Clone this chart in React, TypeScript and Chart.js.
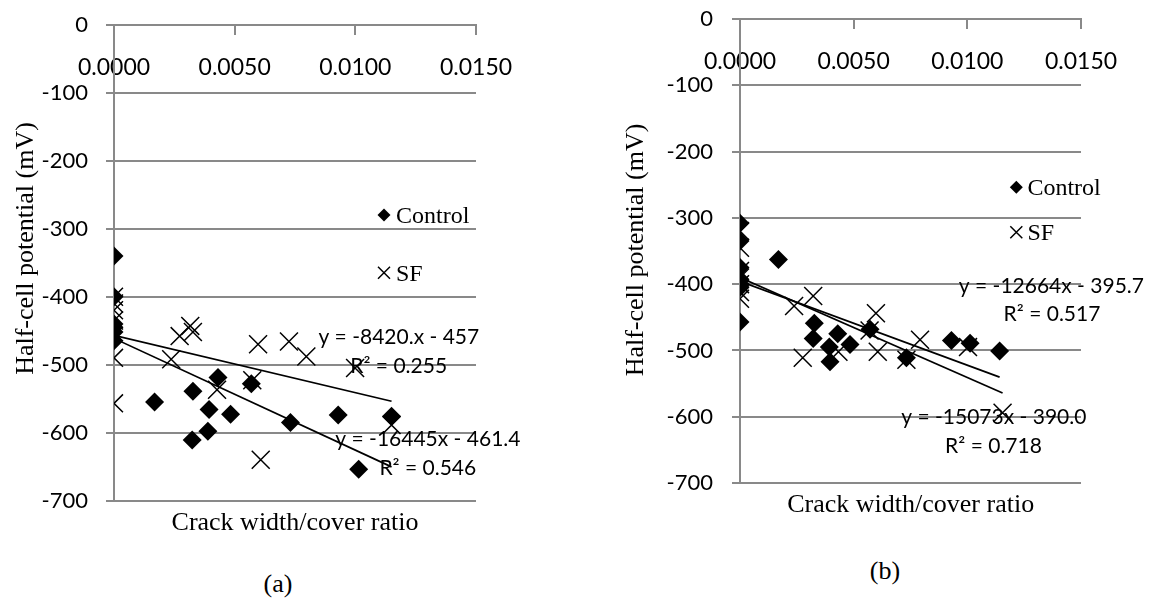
import React, { useEffect, useRef } from 'react';
import { Chart, registerables } from 'chart.js';

Chart.register(...registerables);

// ---------- shared axis ticks ----------
const xTickValues = [0, 0.005, 0.01, 0.015];
const yTickValues = [0, -100, -200, -300, -400, -500, -600, -700];

const seriesNames = ['Control', 'SF'];
const xAxisTitle = 'Crack width/cover ratio';
const yAxisTitle = 'Half-cell potential (mV)';

// ---------- panel (a) ----------
const controlAX = [0, 0, 0, 0, 0, 0, 0.00168, 0.00324, 0.00327, 0.00389, 0.00394, 0.00431, 0.00483, 0.00569, 0.00731, 0.00929, 0.01014, 0.0115];
const controlAY = [-340, -400, -440, -445, -452, -465, -555, -611, -539, -598, -566, -519, -573, -528, -585, -574, -654, -576];
const sfAX = [0, 0, 0, 0, 0, 0, 0.00237, 0.00272, 0.00316, 0.00327, 0.00427, 0.00573, 0.00597, 0.00608, 0.00725, 0.00797, 0.00999, 0.0115];
const sfAY = [-400, -410, -420, -435, -490, -557, -492, -458, -443, -452, -537, -523, -470, -640, -466, -488, -505, -589];
const trendControlA = [-16445, -461.4]; // slope, intercept
const trendSfA = [-8420, -457];
const eqLabelsA = ['y = -8420.x - 457', 'R² = 0.255', 'y = -16445x - 461.4', 'R² = 0.546'];

// ---------- panel (b) ----------
const controlBX = [0, 0, 0, 0, 0, 0, 0, 0.00169, 0.00322, 0.00327, 0.00393, 0.00396, 0.0043, 0.00484, 0.00572, 0.00732, 0.0093, 0.01012, 0.01142];
const controlBY = [-308, -335, -375, -395, -400, -405, -457, -363, -482, -459, -495, -517, -475, -491, -468, -511, -485, -489, -501];
const sfBX = [0, 0, 0, 0, 0, 0, 0, 0.00238, 0.00276, 0.00322, 0.00433, 0.0057, 0.00598, 0.00606, 0.00732, 0.00792, 0.01003, 0.01155];
const sfBY = [-320, -345, -380, -390, -400, -412, -422, -433, -511, -418, -502, -470, -444, -502, -514, -484, -495, -594];
const trendControlB = [-12664, -395.7];
const trendSfB = [-15073, -390.0];
const eqLabelsB = ['y = -12664x - 395.7', 'R² = 0.517', 'y = -15073x - 390.0', 'R² = 0.718'];

const captions = ['(a)', '(b)'];

// ---------- styles ----------
const GRAY = '#898989';
const SANS = 'Lato, "Open Sans", sans-serif';
const SERIF = '"Liberation Serif", "Times New Roman", serif';

type Layout = {
  w: number; h: number;
  areaLeft: number; top: number; right: number; bottom: number;
  yPad: number;
  yTitle: [number, number];
  xTitle: [number, number];
  legendX: number; legendTextX: number;
  legendCtrl: [number, number]; legendSf: [number, number];
  eq: [number, number][];
};

const layoutA: Layout = {
  w: 560, h: 545, areaLeft: 114, top: 25, right: 84, bottom: 44.5, yPad: 18,
  yTitle: [33, 248.5], xTitle: [295, 530],
  legendX: 384, legendTextX: 396, legendCtrl: [215, 222.7], legendSf: [272.7, 281],
  eq: [[398.8, 344], [398.7, 372.7], [427.9, 445.7], [427.8, 475]],
};

const layoutB: Layout = {
  w: 580, h: 545, areaLeft: 170, top: 19, right: 69, bottom: 62, yPad: 19,
  yTitle: [73, 250], xTitle: [340.7, 512],
  legendX: 446.3, legendTextX: 457.4, legendCtrl: [187.3, 195], legendSf: [232.3, 240],
  eq: [[481.4, 293.3], [482, 320.7], [423.8, 424], [423.5, 453.3]],
};

const zip = (xs: number[], ys: number[]) => xs.map((x, i) => ({ x, y: ys[i] }));
const trendPoints = (xs: number[], coef: number[]) => {
  const lo = Math.min(...xs);
  const hi = Math.max(...xs);
  return [lo, hi].map((x) => ({ x, y: coef[0] * x + coef[1] }));
};

function drawDiamond(ctx: CanvasRenderingContext2D, x: number, y: number, r: number) {
  ctx.beginPath();
  ctx.moveTo(x - r, y);
  ctx.lineTo(x, y - r);
  ctx.lineTo(x + r, y);
  ctx.lineTo(x, y + r);
  ctx.closePath();
  ctx.fill();
}
function drawCross(ctx: CanvasRenderingContext2D, x: number, y: number, r: number) {
  ctx.beginPath();
  ctx.moveTo(x - r, y - r);
  ctx.lineTo(x + r, y + r);
  ctx.moveTo(x + r, y - r);
  ctx.lineTo(x - r, y + r);
  ctx.stroke();
}

function makeTextPlugin(L: Layout, eqLabels: string[]) {
  return {
    id: 'panelText',
    afterDraw(chart: any) {
      const ctx: CanvasRenderingContext2D = chart.ctx;
      ctx.save();
      ctx.fillStyle = '#000';
      ctx.strokeStyle = '#000';
      ctx.textBaseline = 'alphabetic';

      // y title (rotated)
      ctx.save();
      ctx.translate(L.yTitle[0], L.yTitle[1]);
      ctx.rotate(-Math.PI / 2);
      ctx.font = `26px ${SERIF}`;
      ctx.textAlign = 'center';
      ctx.fillText(yAxisTitle, 0, 0);
      ctx.restore();

      // x title
      ctx.font = `26px ${SERIF}`;
      ctx.textAlign = 'center';
      ctx.fillText(xAxisTitle, L.xTitle[0], L.xTitle[1]);

      // legend
      ctx.font = `24px ${SERIF}`;
      ctx.textAlign = 'left';
      drawDiamond(ctx, L.legendX, L.legendCtrl[0], 6.5);
      ctx.fillText(chart.data.datasets[0].label, L.legendTextX, L.legendCtrl[1]);
      ctx.lineWidth = 1.5;
      drawCross(ctx, L.legendX, L.legendSf[0], 6);
      ctx.fillText(chart.data.datasets[1].label, L.legendTextX, L.legendSf[1]);

      // trendline equations
      ctx.font = `21px ${SANS}`;
      ctx.textAlign = 'center';
      eqLabels.forEach((t, i) => ctx.fillText(t, L.eq[i][0], L.eq[i][1]));
      ctx.restore();
    },
  };
}

function Panel({ L, ctrlX, ctrlY, sfX, sfY, trendCtrl, trendSf, eqLabels, left }: any) {
  const ref = useRef<HTMLCanvasElement>(null);
  useEffect(() => {
    if (!ref.current) return;
    const chart = new Chart(ref.current, {
      type: 'scatter',
      data: {
        datasets: [
          {
            label: seriesNames[0], data: zip(ctrlX, ctrlY), pointStyle: 'rectRot', pointRadius: 9.5,
            backgroundColor: '#000', borderColor: '#000', borderWidth: 0, order: 3,
          },
          {
            label: seriesNames[1], data: zip(sfX, sfY), pointStyle: 'crossRot', pointRadius: 12.7,
            backgroundColor: '#000', borderColor: '#000', borderWidth: 1.5, order: 2,
          },
          {
            type: 'line', label: 'trend SF', data: trendPoints(sfX, trendSf), borderColor: '#000',
            borderWidth: 1.7, pointRadius: 0, fill: false, order: 1,
          } as any,
          {
            type: 'line', label: 'trend Control', data: trendPoints(ctrlX, trendCtrl), borderColor: '#000',
            borderWidth: 1.7, pointRadius: 0, fill: false, order: 0,
          } as any,
        ],
      },
      options: {
        animation: false,
        responsive: false,
        layout: { padding: { left: 0, top: L.top, right: L.right, bottom: L.bottom } },
        plugins: { legend: { display: false }, tooltip: { enabled: false }, title: { display: false } },
        scales: {
          x: {
            type: 'linear',
            position: { y: 0 } as any,
            min: 0,
            max: 0.015,
            afterBuildTicks: (s: any) => { s.ticks = xTickValues.map((value) => ({ value })); },
            afterFit: (s: any) => { s.paddingLeft = 0; s.paddingRight = 0; s.paddingTop = 0; s.paddingBottom = 0; },
            ticks: {
              font: { family: SANS, size: 23 }, color: '#000', padding: 20, maxRotation: 0, autoSkip: false,
              callback: (v: any) => Number(v).toFixed(4),
            },
            grid: { drawOnChartArea: false, drawTicks: true, tickLength: 9, color: GRAY, lineWidth: 2 },
            border: { display: true, color: GRAY, width: 2 },
          },
          y: {
            type: 'linear',
            min: -700,
            max: 0,
            afterBuildTicks: (s: any) => { s.ticks = yTickValues.map((value) => ({ value })); },
            afterFit: (s: any) => { s.width = L.areaLeft; s.paddingTop = 0; s.paddingBottom = 0; },
            ticks: { font: { family: SANS, size: 22 }, color: '#000', padding: L.yPad, callback: (v: any) => String(v) },
            grid: { color: GRAY, lineWidth: 2, drawTicks: true, tickLength: 8 },
            border: { display: true, color: GRAY, width: 2 },
          },
        },
      },
      plugins: [makeTextPlugin(L, eqLabels)],
    } as any);
    return () => chart.destroy();
  }, []);
  return (
    <canvas
      ref={ref}
      width={L.w}
      height={L.h}
      style={{ position: 'absolute', left, top: 0, width: L.w, height: L.h }}
    />
  );
}

export default function App() {
  const capStyle: React.CSSProperties = {
    position: 'absolute', fontFamily: SERIF, fontSize: 26, lineHeight: '30px',
    transform: 'translate(-50%, -50%)', color: '#000',
  };
  return (
    <div style={{ position: 'absolute', left: 0, top: 0, width: 1150, height: 599, background: '#fff', overflow: 'hidden' }}>
      <Panel L={layoutA} ctrlX={controlAX} ctrlY={controlAY} sfX={sfAX} sfY={sfAY}
        trendCtrl={trendControlA} trendSf={trendSfA} eqLabels={eqLabelsA} left={0} />
      <Panel L={layoutB} ctrlX={controlBX} ctrlY={controlBY} sfX={sfBX} sfY={sfBY}
        trendCtrl={trendControlB} trendSf={trendSfB} eqLabels={eqLabelsB} left={570} />
      <div style={{ ...capStyle, left: 278, top: 584 }}>{captions[0]}</div>
      <div style={{ ...capStyle, left: 885, top: 571 }}>{captions[1]}</div>
    </div>
  );
}
